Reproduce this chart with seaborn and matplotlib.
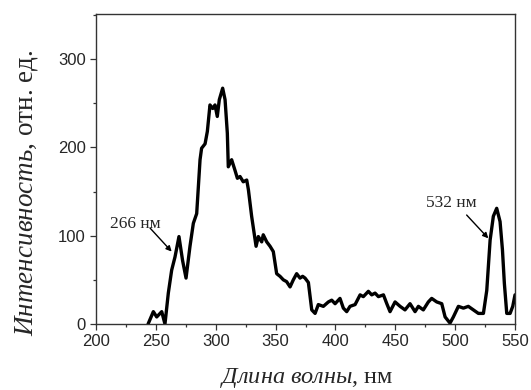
import matplotlib
matplotlib.use("Agg")
import matplotlib.pyplot as plt
from matplotlib.ticker import MultipleLocator
import numpy as np
import pandas as pd
import seaborn as sns

# Emission spectrum: wavelength (nm) and intensity (arb. units)
wavelength = [
    243.5, 247.9, 250.7, 254.9, 257.6, 260.4, 263.2, 266.0, 269.3, 272.3,
    275.2, 278.5, 281.3, 284.1, 286.9, 288.2, 291.1, 293.0, 295.2, 297.5,
    299.4, 301.3, 303.0, 305.8, 307.8, 309.7, 310.5, 313.3, 316.1, 318.1,
    320.3, 323.0, 325.9, 327.3, 330.0, 333.7, 335.6, 338.4, 339.7, 342.6,
    345.4, 348.1, 350.9, 353.7, 356.5, 359.2, 362.1, 364.8, 367.6, 370.4,
    372.6, 374.6, 377.4, 380.2, 383.0, 385.7, 389.9, 394.1, 396.9, 399.7,
    403.8, 406.6, 409.4, 412.2, 416.4, 420.6, 423.3, 427.5, 430.3, 433.1,
    435.9, 440.1, 442.9, 445.6, 449.8, 454.0, 458.1, 462.3, 466.5, 469.3,
    473.4, 477.6, 480.4, 484.6, 488.8, 491.6, 495.7, 498.5, 502.7, 506.9,
    511.0, 515.2, 519.4, 523.6, 526.4, 529.2, 531.9, 534.7, 537.5, 539.5,
    541.1, 543.1, 545.9, 548.1, 550.0,
]
intensity = [
    0, 14, 8, 14, 0, 35, 61, 76, 99, 72,
    52, 88, 114, 125, 186, 199, 204, 218, 248, 244,
    248, 235, 254, 267, 254, 216, 178, 186, 174, 165,
    167, 161, 163, 152, 122, 88, 99, 93, 101, 93,
    88, 82, 57, 54, 50, 48, 42, 50, 57, 52,
    54, 52, 47, 16, 12, 22, 20, 25, 27, 23,
    29, 18, 14, 20, 22, 33, 31, 37, 33, 35,
    31, 33, 23, 14, 25, 20, 16, 23, 14, 20,
    16, 25, 29, 25, 23, 8, 1, 8, 20, 18,
    20, 16, 12, 12, 38, 95, 122, 131, 116, 84,
    46, 12, 12, 20, 33,
]

x_ticks = [200, 250, 300, 350, 400, 450, 500, 550]
y_ticks = [0, 100, 200, 300]

# Peak annotations: label, label centre, arrow tail, arrow tip
peak_labels = ["266 нм", "532 нм"]
peak_text_xy = [(232.6, 113), (497.1, 137)]
peak_arrow_from = [(245.1, 108.7), (509.6, 123.4)]
peak_arrow_to = [(263.2, 82), (527.7, 97)]

df = pd.DataFrame({"wavelength": wavelength, "intensity": intensity})

sns.set_style("ticks")
plt.rcParams["font.family"] = ["Liberation Sans", "DejaVu Sans"]
plt.rcParams["mathtext.fontset"] = "custom"
plt.rcParams["mathtext.rm"] = "Liberation Serif"
plt.rcParams["mathtext.it"] = "Liberation Serif:italic"

fig = plt.figure(figsize=(5.31, 3.90), dpi=100)
ax = fig.add_axes([0.1808, 0.1692, 0.7891, 0.7949])

sns.lineplot(data=df, x="wavelength", y="intensity", ax=ax,
             color="black", linewidth=2.4, sort=False)

ax.set_xlim(200, 550)
ax.set_ylim(0, 351)
ax.set_xticks(x_ticks)
ax.set_yticks(y_ticks)
ax.xaxis.set_minor_locator(MultipleLocator(25))
ax.yaxis.set_minor_locator(MultipleLocator(50))
ax.xaxis.set_ticks_position("bottom")
ax.yaxis.set_ticks_position("left")
ax.tick_params(which="major", direction="out", length=4, width=0.9,
               labelsize=12, color="#333333")
ax.tick_params(which="minor", direction="out", length=2.5, width=0.9,
               color="#333333")
for side in ["left", "bottom", "top", "right"]:
    ax.spines[side].set_visible(True)
    ax.spines[side].set_color("#333333")
    ax.spines[side].set_linewidth(1.0)

ax.set_xlabel(r"$\mathit{Длина\ волны}$, нм", family="Liberation Serif",
              fontsize=17.5)
ax.set_ylabel(r"$\mathit{Интенсивность}$, отн. ед.", family="Liberation Serif",
              fontsize=19.5)
ax.xaxis.set_label_coords(0.504, -0.174)
ax.yaxis.set_label_coords(-0.165, 0.423)
ax.xaxis.label.set_verticalalignment("center")
ax.yaxis.label.set_verticalalignment("center")

for label, txy, a0, a1 in zip(peak_labels, peak_text_xy,
                              peak_arrow_from, peak_arrow_to):
    ax.text(txy[0], txy[1], label, ha="center", va="center",
            family="Liberation Serif", fontsize=12.5)
    ax.annotate("", xy=a1, xytext=a0,
                arrowprops=dict(arrowstyle="-|>", color="black", lw=1.0,
                                mutation_scale=8, shrinkA=0, shrinkB=0))

fig.savefig("out.png", dpi=100)
